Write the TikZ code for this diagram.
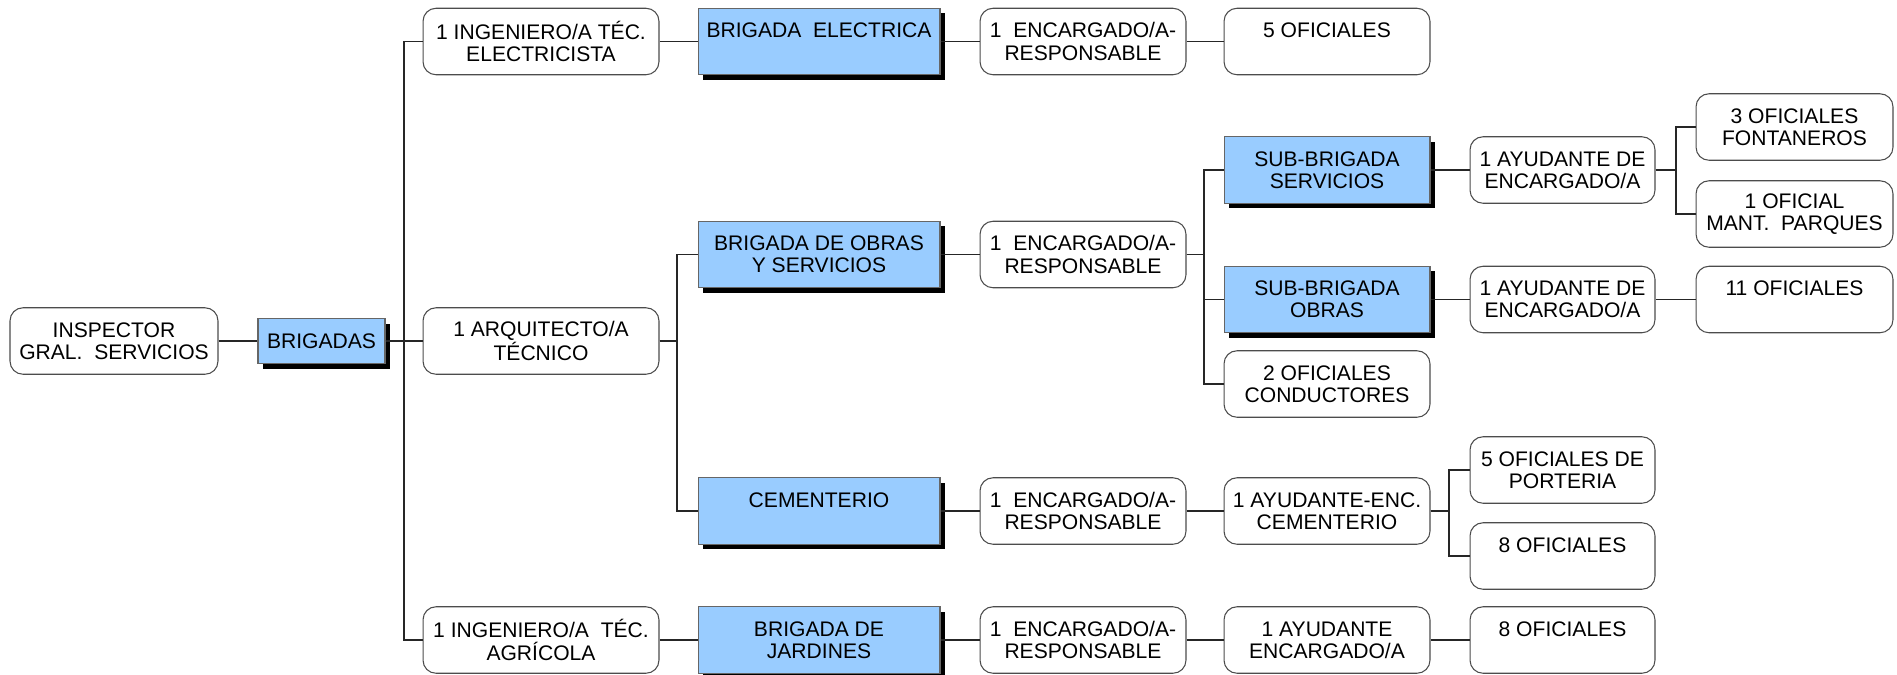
\documentclass[tikz,border=0pt]{standalone}
\usepackage{fontspec}
\setmainfont{Liberation Sans}
\usetikzlibrary{shadows}
\definecolor{azul}{RGB}{153,204,255}
\begin{document}
\begin{tikzpicture}
  [x=0.02cm,y=-0.02cm,
   every node/.style={align=center,inner sep=0pt,minimum height=1.33cm,font=\fontsize{12}{12.6}\selectfont},
   cargo/.style={draw=black!70,line width=0.6pt,fill=white,rounded corners=0.26cm},
   grupo/.style={draw=black!60,line width=0.6pt,fill=azul,drop shadow={shadow xshift=0.1cm,shadow yshift=-0.1cm,opacity=1,fill=black}},
   linea/.style={draw=black!85,line width=0.7pt}]
  \useasboundingbox (0,0) rectangle (1897,674);
  % first levels
  \node (insp)[cargo,minimum width=4.16cm] at (114,341) {INSPECTOR\\GRAL.~~SERVICIOS};
  \node (brig)[grupo,minimum width=2.54cm,minimum height=0.9cm] at (321.5,341) {BRIGADAS};
  \node (ingel)[cargo,minimum width=4.72cm] at (541,41.5) {1 INGENIERO/A TÉC.\\ELECTRICISTA};
  \node (arq)[cargo,minimum width=4.72cm] at (541,341) {1 ARQUITECTO/A\\TÉCNICO};
  \node (ingag)[cargo,minimum width=4.72cm] at (541,640) {1 INGENIERO/A~~TÉC.\\AGRÍCOLA};
  % brigadas
  \node (bel)[grupo,minimum width=4.84cm] at (819,41.5) {BRIGADA~~ELECTRICA\\~};
  \node (bobr)[grupo,minimum width=4.84cm] at (819,254.5) {BRIGADA DE OBRAS\\Y SERVICIOS};
  \node (bcem)[grupo,minimum width=4.84cm] at (819,511) {CEMENTERIO\\~};
  \node (bjar)[grupo,minimum width=4.84cm] at (819,640) {BRIGADA DE\\JARDINES};
  % encargados
  \node (enc1)[cargo,minimum width=4.12cm] at (1083,41.5) {1~~ENCARGADO/A-\\RESPONSABLE};
  \node (enc2)[cargo,minimum width=4.12cm] at (1083,254.5) {1~~ENCARGADO/A-\\RESPONSABLE};
  \node (enc3)[cargo,minimum width=4.12cm] at (1083,511) {1~~ENCARGADO/A-\\RESPONSABLE};
  \node (enc4)[cargo,minimum width=4.12cm] at (1083,640) {1~~ENCARGADO/A-\\RESPONSABLE};
  % fifth column
  \node (of5)[cargo,minimum width=4.12cm] at (1327,41.5) {5 OFICIALES\\~};
  \node (sserv)[grupo,minimum width=4.12cm] at (1327,170) {SUB-BRIGADA\\SERVICIOS};
  \node (sobr)[grupo,minimum width=4.12cm] at (1327,299.5) {SUB-BRIGADA\\OBRAS};
  \node (ofcond)[cargo,minimum width=4.12cm] at (1327,384) {2 OFICIALES\\CONDUCTORES};
  \node (ayucem)[cargo,minimum width=4.12cm] at (1327,511) {1 AYUDANTE-ENC.\\CEMENTERIO};
  \node (ayujar)[cargo,minimum width=4.12cm] at (1327,640) {1 AYUDANTE\\ENCARGADO/A};
  % sixth column
  \node (ayuserv)[cargo,minimum width=3.7cm] at (1562.5,170) {1 AYUDANTE DE\\ENCARGADO/A};
  \node (ayuobr)[cargo,minimum width=3.7cm] at (1562.5,299.5) {1 AYUDANTE DE\\ENCARGADO/A};
  \node (ofport)[cargo,minimum width=3.7cm] at (1562.5,470) {5 OFICIALES DE\\PORTERIA};
  \node (of8cem)[cargo,minimum width=3.7cm] at (1562.5,556) {8 OFICIALES\\~};
  \node (of8jar)[cargo,minimum width=3.7cm] at (1562.5,640) {8 OFICIALES\\~};
  % last column
  \node (offont)[cargo,minimum width=3.94cm] at (1794.5,127) {3 OFICIALES\\FONTANEROS};
  \node (ofmant)[cargo,minimum width=3.94cm] at (1794.5,214) {1 OFICIAL\\MANT.~~PARQUES};
  \node (of11)[cargo,minimum width=3.94cm] at (1794.5,299.5) {11 OFICIALES\\~};
  % bus lines
  \coordinate (b1) at (404,0);
  \coordinate (b2) at (677,0);
  \coordinate (b3) at (1204,0);
  \coordinate (b4) at (1676,0);
  \coordinate (b5) at (1449,0);
 \foreach \from/\to in {insp/brig,ingel/bel,bel/enc1,enc1/of5,bobr/enc2,bcem/enc3,enc3/ayucem,ingag/bjar,bjar/enc4,enc4/ayujar,ayujar/of8jar,sserv/ayuserv,sobr/ayuobr,ayuobr/of11}
    \draw[linea] (\from.east) -- (\to.west);
 \foreach \from/\bus/\to in {brig/b1/ingel,brig/b1/arq,brig/b1/ingag,arq/b2/bobr,arq/b2/bcem,enc2/b3/sserv,enc2/b3/sobr,enc2/b3/ofcond,ayuserv/b4/offont,ayuserv/b4/ofmant,ayucem/b5/ofport,ayucem/b5/of8cem}
    \draw[linea] (\from.east) -- (\from.east -| \bus) |- (\to.west);
\end{tikzpicture}
\end{document}
